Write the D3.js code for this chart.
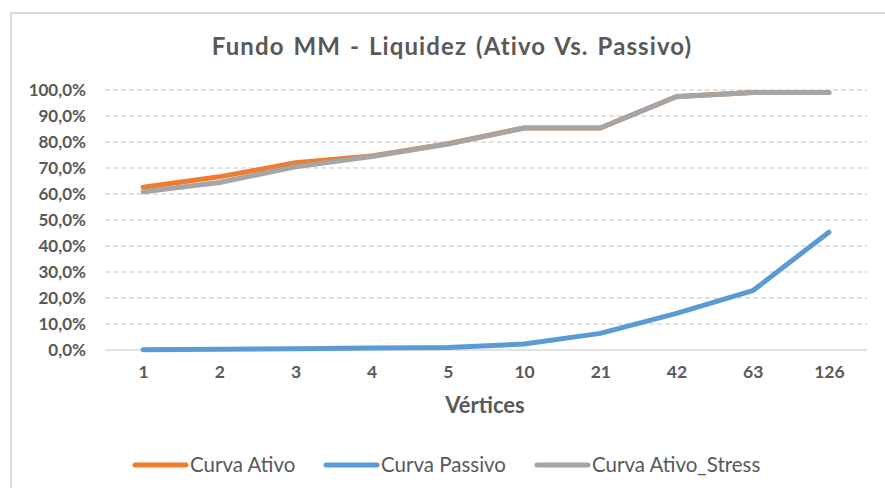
<!DOCTYPE html>
<html>
<head>
<meta charset="utf-8">
<script src="https://cdn.jsdelivr.net/npm/d3@7"></script>
<style>
  body { margin: 0; background: #fff; }
  svg { display: block; }
</style>
</head>
<body>
<div id="chart"></div>
<script>
// data
const vertices = ["1", "2", "3", "4", "5", "10", "21", "42", "63", "126"];
const curvaAtivo = [62.6, 66.6, 72.0, 74.6, 79.3, 85.4, 85.4, 97.5, 99.0, 99.0];
const curvaPassivo = [0.1, 0.3, 0.5, 0.8, 1.0, 2.3, 6.4, 14.1, 22.8, 45.3];
const curvaStress = [60.9, 64.4, 70.5, 74.4, 79.2, 85.4, 85.4, 97.4, 99.0, 99.0];
const yTicks = [0, 10, 20, 30, 40, 50, 60, 70, 80, 90, 100];
const seriesNames = ["Curva Ativo", "Curva Passivo", "Curva Ativo_Stress"];

const series = [
    {name: seriesNames[0], values: curvaAtivo, color: "#ED7D31"},
    {name: seriesNames[1], values: curvaPassivo, color: "#5B9BD5"},
    {name: seriesNames[2], values: curvaStress, color: "#A5A5A5"}
];

const W = 885, H = 488;
const margin = {top: 90, right: 18, bottom: 138, left: 105};
const width = W - margin.left - margin.right;
const height = H - margin.top - margin.bottom;
const font = "Lato, 'Open Sans', sans-serif";
const textColor = "#595959";

const svg = d3.select("#chart").append("svg")
    .attr("width", W)
    .attr("height", H);

// chart frame
svg.append("rect")
    .attr("x", 11).attr("y", 13)
    .attr("width", W + 20).attr("height", H + 20)
    .attr("fill", "#fff")
    .attr("stroke", "#d9d9d9")
    .attr("stroke-width", 2);

svg.append("text")
    .attr("x", 452).attr("y", 55)
    .attr("text-anchor", "middle")
    .style("font-family", font)
    .style("font-size", "24px")
    .style("font-weight", "bold")
    .style("letter-spacing", "1.1px")
    .style("word-spacing", "2px")
    .style("fill", textColor)
    .text("Fundo MM - Liquidez (Ativo Vs. Passivo)");

const g = svg.append("g")
    .attr("transform", "translate(" + margin.left + "," + margin.top + ")");

const xScale = d3.scalePoint().domain(vertices).range([0, width]).padding(0.5);
const yScale = d3.scaleLinear().domain([0, 100]).range([height, 0]);

// gridlines
g.append("g").selectAll("line")
    .data(yTicks.filter(d => d > 0))
    .join("line")
    .attr("x1", 0).attr("x2", width)
    .attr("y1", d => yScale(d)).attr("y2", d => yScale(d))
    .attr("stroke", "#d9d9d9")
    .attr("stroke-width", 1.3)
    .attr("stroke-dasharray", "5,3");

// y axis
const yAxis = g.append("g")
    .attr("class", "yAxisG")
    .call(d3.axisLeft(yScale).tickValues(yTicks).tickSize(0).tickPadding(19)
        .tickFormat(d => d3.format(".1f")(d).replace(".", ",") + "%"));
yAxis.select(".domain").remove();
yAxis.selectAll("text")
    .style("font-family", font)
    .style("font-size", "17px")
    .style("font-weight", "bold")
    .style("fill", textColor);

// x axis
const xAxis = g.append("g")
    .attr("class", "xAxisG")
    .attr("transform", "translate(0," + height + ")")
    .call(d3.axisBottom(xScale).tickSize(0).tickPadding(16));
xAxis.select(".domain")
    .attr("d", "M0,0H" + width)
    .attr("stroke", "#d9d9d9")
    .attr("stroke-width", 1.5);
xAxis.selectAll("text")
    .style("font-family", font)
    .style("font-size", "17.5px")
    .style("font-weight", "bold")
    .style("fill", textColor);

svg.append("text")
    .attr("x", 485).attr("y", 413)
    .attr("text-anchor", "middle")
    .style("font-family", font)
    .style("font-size", "22px")
    .style("font-weight", "bold")
    .style("fill", textColor)
    .text("Vértices");

// lines
const line = d3.line()
    .x((d, i) => xScale(vertices[i]))
    .y(d => yScale(d));

g.selectAll(".seriesLine")
    .data(series)
    .join("path")
    .attr("class", "seriesLine")
    .attr("d", d => line(d.values))
    .attr("fill", "none")
    .attr("stroke", d => d.color)
    .attr("stroke-width", 5)
    .attr("stroke-linejoin", "round")
    .attr("stroke-linecap", "round");

// legend
const legendX = [135, 326, 537];
const legend = svg.append("g").selectAll(".legendItem")
    .data(series)
    .join("g")
    .attr("class", "legendItem")
    .attr("transform", (d, i) => "translate(" + legendX[i] + ",465)");
legend.append("line")
    .attr("x1", 0).attr("x2", 51)
    .attr("stroke", d => d.color)
    .attr("stroke-width", 5)
    .attr("stroke-linecap", "round");
legend.append("text")
    .attr("x", 55).attr("dy", "0.35em")
    .style("font-family", font)
    .style("font-size", "20.5px")
    .style("fill", textColor)
    .text(d => d.name);
</script>
</body>
</html>
